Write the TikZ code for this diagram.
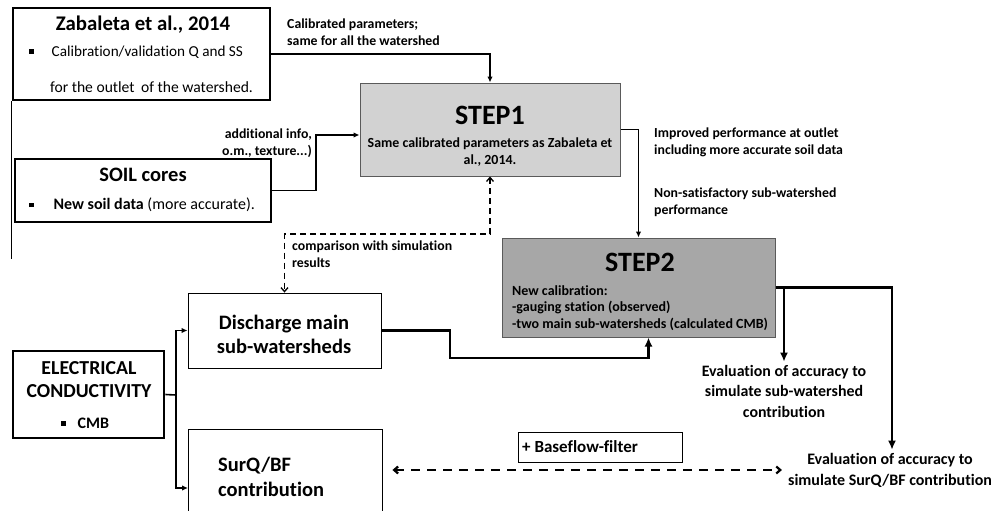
\documentclass[tikz,border=0pt]{standalone}
\usepackage{fontspec}
\setmainfont{Carlito}[Ligatures=NoCommon]
\usetikzlibrary{arrows.meta,calc,positioning}
\definecolor{stepone}{HTML}{D2D2D2}
\definecolor{steptwo}{HTML}{A7A7A7}
\definecolor{edge}{HTML}{5A5A5A}
\newcommand{\sqbul}{\rule[2.5pt]{4.5pt}{4.5pt}}
\tikzset{
  thickbox/.style={draw, line width=2.6pt, inner sep=0pt},
  thinbox/.style={draw, line width=0.9pt, inner sep=0pt},
  stepbox/.style={draw=edge, line width=1pt, inner sep=0pt},
  lbl/.style={inner sep=0pt, font=\fontsize{13.8}{16.8}\selectfont\bfseries},
  arr/.style={line width=1.8pt, -{Latex[length=6pt,width=5.5pt]}},
  thickarr/.style={line width=2.8pt, -{Latex[length=9pt,width=8pt]}},
  dasharr/.style={line width=1.3pt, dash pattern=on 6pt off 4pt, {Straight Barb[length=4pt,width=7pt]}-{Straight Barb[length=4pt,width=7pt]}}
}

\begin{document}
\begin{tikzpicture}[x=1pt, y=-1pt]
\useasboundingbox (0,0) rectangle (998,511);

% boxes
\node[thickbox, minimum width=257, minimum height=92] (zab) at (141.5,54) {};
\node[thickbox, minimum width=256, minimum height=63] (soil) at (143,190.5) {};
\node[stepbox, fill=stepone, minimum width=260, minimum height=93] (step1) at (490,129.5) {};
\node[stepbox, fill=steptwo, minimum width=273, minimum height=99] (step2) at (638.5,287.5) {};
\node[thinbox, minimum width=193, minimum height=75] (disch) at (284.5,330.5) {};
\node[thickbox, minimum width=151, minimum height=87] (elec) at (88.5,394.5) {};
\node[thinbox, minimum width=194, minimum height=96] (surq) at (285,477) {};
\node[thinbox, minimum width=164, minimum height=30] (bflow) at (600,447) {};

\draw[line width=1.2pt] (zab.south west) -- ++(0,158);

% texts in boxes
\node[inner sep=0pt, font=\fontsize{20.8}{24}\selectfont\bfseries] (zabtitle) at (143,25) {Zabaleta et al., 2014};
\node[inner sep=0pt, anchor=west, font=\fontsize{15.2}{18}\selectfont] (zabone) at (29,52) {\sqbul\hspace{18pt}Calibration/validation Q and SS};
\node[inner sep=0pt, anchor=west, font=\fontsize{15.6}{18}\selectfont] (zabtwo) at (50,87) {for the outlet\hspace{3pt} of the watershed.};

\node[inner sep=0pt, font=\fontsize{20.5}{24}\selectfont\bfseries] (soiltitle) at (143,175) {SOIL cores};
\node[inner sep=0pt, anchor=west, font=\fontsize{16}{19}\selectfont] (soilone) at (29,205) {\sqbul\hspace{20pt}\textbf{New soil data} (more accurate).};

\node[inner sep=0pt, font=\fontsize{28}{32}\selectfont\bfseries] (steponetitle) at (490,115) {STEP1};
\node[inner sep=0pt, align=center, font=\fontsize{13.9}{17}\selectfont\bfseries] (steponetext) at (490,152) {Same calibrated parameters as Zabaleta et\\al., 2014.};

\node[inner sep=0pt, font=\fontsize{28}{32}\selectfont\bfseries] (steptwotitle) at (640,262) {STEP2};
\node[inner sep=0pt, anchor=west, align=left, font=\fontsize{14}{16.5}\selectfont\bfseries] (steptwotext) at (512,308) {New calibration:\\-gauging station (observed)\\-two main sub-watersheds (calculated CMB)};

\node[inner sep=0pt, align=center, font=\fontsize{20.5}{24}\selectfont\bfseries] (dischtext) at (284,334) {Discharge main\\sub-watersheds};
\node[inner sep=0pt, align=center, font=\fontsize{19.8}{23}\selectfont\bfseries] (electext) at (89,380) {ELECTRICAL\\CONDUCTIVITY};
\node[inner sep=0pt, anchor=west, font=\fontsize{16}{18}\selectfont\bfseries] (elecone) at (61,423) {\sqbul\hspace{12pt}CMB};
\node[inner sep=0pt, anchor=west, align=left, font=\fontsize{20.5}{25}\selectfont\bfseries] (surqtext) at (218,477) {SurQ/BF\\contribution};
\node[inner sep=0pt, anchor=west, font=\fontsize{17}{19}\selectfont\bfseries] (bflowtext) at (522,447) {+ Baseflow-filter};

\node[inner sep=0pt, align=center, font=\fontsize{15.9}{20.5}\selectfont\bfseries] (evalone) at (784,391) {Evaluation of accuracy to\\simulate sub-watershed\\contribution};
\node[inner sep=0pt, align=center, font=\fontsize{16}{21}\selectfont\bfseries] (evaltwo) at (890,470) {Evaluation of accuracy to\\simulate SurQ/BF contribution};

% labels
\node[lbl, anchor=west, align=left] (calib) at (287,32) {Calibrated parameters;\\same for all the watershed};
\node[lbl, anchor=east, align=right] (addinfo) at (312,143) {additional info,\\o.m., texture...)};
\node[lbl, anchor=west, align=left] (improved) at (654,142) {Improved performance at outlet\\including more accurate soil data};
\node[lbl, anchor=west, align=left] (nonsat) at (654,202) {Non-satisfactory sub-watershed\\performance};
\node[lbl, anchor=west, align=left] (compar) at (292,254) {comparison with simulation\\results};

% arrows
\coordinate (soilbend) at (316,135);
\coordinate (cmpbend) at (490,234);
\coordinate (dbend) at (450,358);
\coordinate (split) at (176,395);
\coordinate (surqin) at (188,488);

\draw[arr] (zab.east) -| (step1.north);
\draw[arr] (soil.east) -| (soilbend) -- (soilbend -| step1.west);
\draw[arr] (step1.east) -| (step2.north);
\draw[dasharr] (step1.south) -- (cmpbend) -| (disch.north);
\draw[thickarr, line width=2.2pt] (disch.east) -| (dbend) -| ([xshift=10pt]step2.south);
\draw[line width=1.6pt] (elec.east) -- (split);
\draw[arr] (split) |- (disch.west);
\draw[arr] (split) |- (surqin);
\draw[thickarr] (step2.east) -| ([yshift=3pt]evalone.north);
\draw[thickarr] (step2.east) -| ([xshift=2pt,yshift=3pt]evaltwo.north);
\draw[dasharr, line width=2.2pt, dash pattern=on 9pt off 7pt] ($(surq.east |- evaltwo.west)+(10,0)$) -- ($(evaltwo.west)+(-6,0)$);

\end{tikzpicture}
\end{document}
